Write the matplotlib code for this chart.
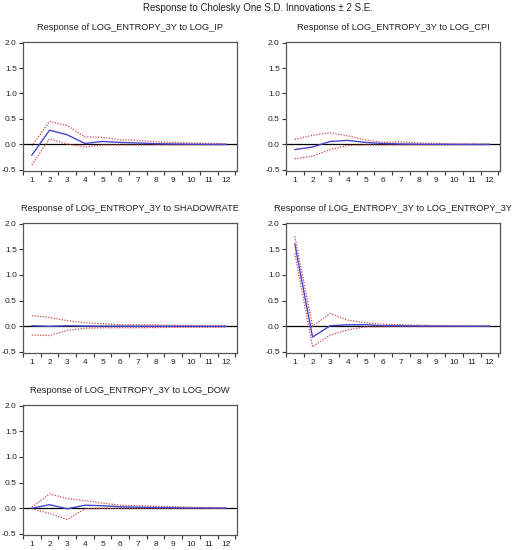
import matplotlib
matplotlib.use("Agg")
import matplotlib.pyplot as plt
import numpy as np

plt.rcParams['font.family'] = ['Liberation Sans', 'DejaVu Sans']

periods = list(range(1, 13))

titles = [
    "Response of LOG_ENTROPY_3Y to LOG_IP",
    "Response of LOG_ENTROPY_3Y to LOG_CPI",
    "Response of LOG_ENTROPY_3Y to SHADOWRATE",
    "Response of LOG_ENTROPY_3Y to LOG_ENTROPY_3Y",
    "Response of LOG_ENTROPY_3Y to LOG_DOW",
]

ip_resp  = [-0.21, 0.28, 0.19, 0.02, 0.06, 0.04, 0.03, 0.015, 0.01, 0.005, 0.002, 0.001]
ip_up    = [-0.03, 0.45, 0.37, 0.15, 0.14, 0.09, 0.08, 0.05, 0.04, 0.03, 0.02, 0.015]
ip_lo    = [-0.40, 0.11, 0.01, -0.05, -0.01, -0.01, -0.01, -0.01, -0.01, -0.01, -0.01, -0.01]

cpi_resp = [-0.10, -0.05, 0.06, 0.08, 0.04, 0.02, 0.01, 0.005, 0.003, 0.002, 0.001, 0.001]
cpi_up   = [0.10, 0.18, 0.23, 0.17, 0.09, 0.04, 0.05, 0.03, 0.02, 0.01, 0.01, 0.01]
cpi_lo   = [-0.28, -0.23, -0.10, -0.02, -0.01, -0.01, -0.01, -0.01, -0.01, -0.01, -0.005, -0.005]

sr_resp  = [0.01, 0.0, 0.01, 0.005, 0.003, 0.002, 0.001, 0.001, 0.0, 0.0, 0.0, 0.0]
sr_up    = [0.21, 0.17, 0.11, 0.07, 0.05, 0.03, 0.03, 0.025, 0.02, 0.015, 0.01, 0.01]
sr_lo    = [-0.17, -0.18, -0.08, -0.04, -0.03, -0.03, -0.03, -0.025, -0.02, -0.02, -0.02, -0.02]

en_resp  = [1.60, -0.21, 0.01, 0.03, 0.03, 0.01, 0.01, 0.005, 0.003, 0.002, 0.001, 0.001]
en_up    = [1.75, 0.0, 0.25, 0.12, 0.07, 0.04, 0.03, 0.02, 0.015, 0.01, 0.01, 0.01]
en_lo    = [1.42, -0.40, -0.17, -0.07, -0.01, -0.01, -0.005, -0.005, -0.005, -0.005, -0.005, -0.005]

dow_resp = [0.0, 0.07, -0.01, 0.06, 0.05, 0.03, 0.02, 0.015, 0.01, 0.005, 0.003, 0.002]
dow_up   = [0.02, 0.28, 0.19, 0.15, 0.10, 0.06, 0.05, 0.04, 0.03, 0.02, 0.015, 0.01]
dow_lo   = [-0.01, -0.10, -0.22, -0.01, 0.0, 0.0, 0.0, -0.005, -0.005, -0.005, -0.005, -0.005]

series = [
    (ip_resp, ip_up, ip_lo),
    (cpi_resp, cpi_up, cpi_lo),
    (sr_resp, sr_up, sr_lo),
    (en_resp, en_up, en_lo),
    (dow_resp, dow_up, dow_lo),
]

yticks = [-0.5, 0.0, 0.5, 1.0, 1.5, 2.0]
ytick_labels = ["-0.5", "0.0", "0.5", "1.0", "1.5", "2.0"]

W, H = 515, 550
fig = plt.figure(figsize=(W / 100, H / 100), dpi=100)
fig.text(0.5, 1 - 8 / H, "Response to Cholesky One S.D. Innovations \u00b1 2 S.E.",
         ha="center", va="center", fontsize=7.0, color="#222222")

# axes boxes in pixels: left, top, right, bottom
boxes = [
    (23, 42, 237, 171),
    (286, 42, 500, 171),
    (23, 223, 237, 353),
    (286, 223, 500, 353),
    (23, 405, 237, 535),
]

blue = "#4646cc"
red = "#d04848"

for i, ((l, t, r, b), title, (resp, up, lo)) in enumerate(zip(boxes, titles, series)):
    ax = fig.add_axes([l / W, 1 - b / H, (r - l) / W, (b - t) / H])
    ax.axhline(0, color="black", lw=0.9, zorder=1)
    ax.plot(periods, up, color=red, lw=0.9, ls=(0, (1, 1.2)), zorder=2)
    ax.plot(periods, lo, color=red, lw=0.9, ls=(0, (1, 1.2)), zorder=2)
    ax.plot(periods, resp, color=blue, lw=1.0, zorder=3)
    ax.set_xlim(0.5, 12.6)
    ax.set_ylim(-0.52, 2.01)
    ax.set_yticks(yticks)
    ax.set_yticklabels(ytick_labels)
    ax.set_xticks(np.arange(0.5, 12.6, 1.0))
    ax.set_xticklabels([])
    ax.set_xticks(periods, minor=True)
    ax.set_xticklabels([str(p) for p in periods], minor=True)
    ax.tick_params(axis="x", which="major", length=3, width=0.8, direction="out", colors="#333333")
    ax.tick_params(axis="x", which="minor", length=0, labelsize=6, pad=4, labelcolor="#222222")
    ax.tick_params(axis="y", length=3, width=0.8, direction="out", labelsize=6, pad=1.5,
                   colors="#333333", labelcolor="#222222")
    for sp in ax.spines.values():
        sp.set_color("#555555")
        sp.set_linewidth(0.9)
    ax.set_title(title, fontsize=6.7, pad=9, color="#222222")

fig.savefig("out.png", dpi=100)
